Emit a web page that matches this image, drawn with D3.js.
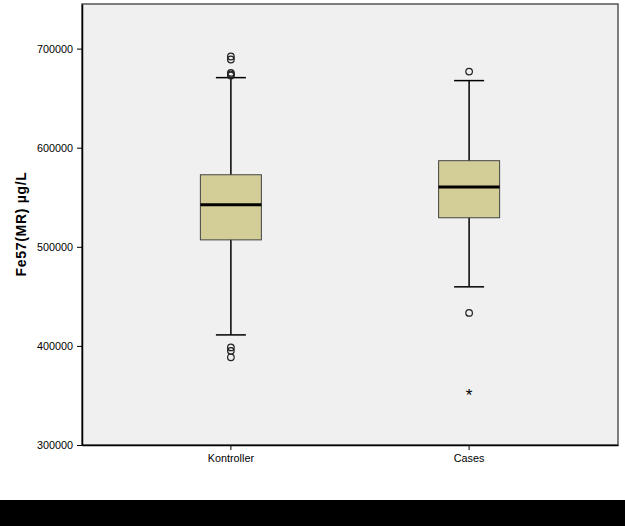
<!DOCTYPE html>
<head>
  <meta charset="utf-8">
  <title>boxplot</title>
  <style>
    body { margin: 0; background: #fff; }
    text { font-family: Arial, "Liberation Sans", sans-serif; }
  </style>
</head>

<script src="https://d3js.org/d3.v7.min.js"></script>

<div id="my_dataviz"></div>

<script>

  // groups and box stats
  const groups = ["Kontroller", "Cases"]
  const q1 = [507000, 529300]
  const median = [542400, 560300]
  const q3 = [572700, 586900]
  const whiskerLow = [411100, 459600]
  const whiskerHigh = [670700, 667700]
  // outliers (circles) and extremes (stars)
  const outliers = [
    [692000, 689000, 675500, 674000, 672800, 398500, 395000, 388500],
    [676800, 433300]
  ]
  const extremes = [[], [353500]]
  const yTicks = [300000, 400000, 500000, 600000, 700000]

  const margin = {top: 4, right: 7, bottom: 81, left: 82},
      width = 625 - margin.left - margin.right,
      height = 526 - margin.top - margin.bottom;

  const root = d3.select("#my_dataviz")
    .append("svg")
      .attr("width", 625)
      .attr("height", 526)

  // black strip along the bottom
  root.append("rect")
    .attr("x", 0).attr("y", 500)
    .attr("width", 625).attr("height", 26)
    .attr("fill", "black")

  const svg = root.append("g")
      .attr("transform", `translate(${margin.left},${margin.top})`);

  // plot background + frame
  svg.append("rect")
    .attr("width", width)
    .attr("height", height)
    .attr("fill", "#f0f0f0")
    .attr("stroke", "#555")
    .attr("stroke-width", 1.5)

  const x = d3.scaleBand()
    .domain(groups)
    .range([0, width])
    .paddingInner(0)
    .paddingOuter(0.125)

  const y = d3.scaleLinear()
    .domain([300000, 745000])
    .range([height, 0])

  // Y axis
  const yAxis = svg.append("g")
    .call(d3.axisLeft(y).tickValues(yTicks).tickFormat(d3.format("d")).tickSize(5).tickSizeOuter(0))
  yAxis.select(".domain").attr("stroke", "black").attr("stroke-width", 1.5)
  yAxis.selectAll("text").attr("font-size", 10.8).attr("font-family", "Arial, 'Liberation Sans', sans-serif").attr("dx", "-1")

  // X axis
  const xAxis = svg.append("g")
    .attr("transform", `translate(0, ${height})`)
    .call(d3.axisBottom(x).tickSize(5).tickSizeOuter(0))
  xAxis.select(".domain").attr("stroke", "black").attr("stroke-width", 1.5)
  xAxis.selectAll("text").attr("font-size", 10.8).attr("font-family", "Arial, 'Liberation Sans', sans-serif").attr("dy", "0.85em")

  // y title
  svg.append("text")
    .attr("transform", `translate(${-56}, ${y(523000)}) rotate(-90)`)
    .attr("text-anchor", "middle")
    .attr("font-size", 14)
    .attr("font-weight", "bold")
    .attr("letter-spacing", 0.7)
    .text("Fe57(MR) µg/L")

  const boxW = 61
  const capW = 30

  const g = svg.append("g")
    .selectAll("g")
    .data(groups)
    .join("g")
      .attr("transform", d => `translate(${x(d) + x.bandwidth() / 2}, 0)`)

  // whisker stems
  g.append("line")
    .attr("y1", (d, i) => y(whiskerLow[i]))
    .attr("y2", (d, i) => y(whiskerHigh[i]))
    .attr("stroke", "black").attr("stroke-width", 1.5)

  // caps
  g.selectAll("line.cap")
    .data((d, i) => [whiskerLow[i], whiskerHigh[i]])
    .join("line")
      .attr("class", "cap")
      .attr("x1", -capW / 2).attr("x2", capW / 2)
      .attr("y1", v => y(v)).attr("y2", v => y(v))
      .attr("stroke", "black").attr("stroke-width", 1.5)

  // box
  g.append("rect")
    .attr("x", -boxW / 2)
    .attr("width", boxW)
    .attr("y", (d, i) => y(q3[i]))
    .attr("height", (d, i) => y(q1[i]) - y(q3[i]))
    .attr("fill", "#d3ce97")
    .attr("stroke", "#444")
    .attr("stroke-width", 1)

  // median
  g.append("line")
    .attr("x1", -boxW / 2).attr("x2", boxW / 2)
    .attr("y1", (d, i) => y(median[i])).attr("y2", (d, i) => y(median[i]))
    .attr("stroke", "black").attr("stroke-width", 3)

  // outlier circles
  g.selectAll("circle")
    .data((d, i) => outliers[i])
    .join("circle")
      .attr("cy", v => y(v))
      .attr("r", 3.3)
      .attr("fill", "none")
      .attr("stroke", "#222")
      .attr("stroke-width", 1.2)

  // extreme stars
  g.selectAll("text.star")
    .data((d, i) => extremes[i])
    .join("text")
      .attr("class", "star")
      .attr("y", v => y(v))
      .attr("dy", "0.55em")
      .attr("text-anchor", "middle")
      .attr("font-size", 17)
      .text("*")

</script>
